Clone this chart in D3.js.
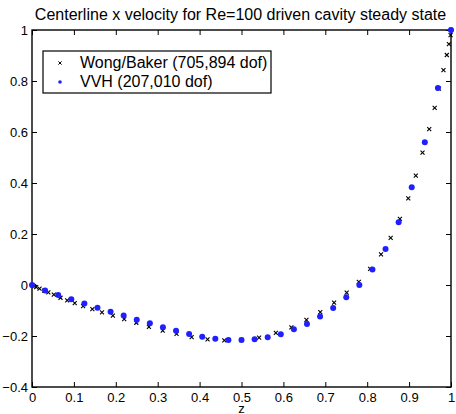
<!DOCTYPE html>
<html>
<head>
<meta charset="utf-8">
<script src="https://cdn.jsdelivr.net/npm/d3@7"></script>
<style>
  body { margin: 0; background: #fff; }
  text { font-family: "Liberation Sans", Arial, sans-serif; fill: #000; }
</style>
</head>
<body>
<div id="chart"></div>
<script>
const width = 456;
const height = 414;
const margin = { top: 30, right: 5, bottom: 27, left: 32 };

// Wong/Baker (705,894 dof)
const wongZ = [0.001, 0.005, 0.010, 0.018, 0.029, 0.039, 0.052, 0.068, 0.084, 0.102,
  0.122, 0.144, 0.167, 0.193, 0.220, 0.249, 0.279, 0.312, 0.345, 0.381, 0.419, 0.459,
  0.500, 0.542, 0.582, 0.619, 0.655, 0.688, 0.721, 0.751, 0.780, 0.807, 0.833, 0.856,
  0.878, 0.898, 0.916, 0.932, 0.948, 0.961, 0.971, 0.982, 0.990, 0.995, 0.999, 1.000];
const wongU = [-0.001, -0.004, -0.008, -0.014, -0.022, -0.029, -0.038, -0.050, -0.060, -0.071,
  -0.083, -0.095, -0.107, -0.120, -0.134, -0.148, -0.164, -0.179, -0.192, -0.204, -0.213, -0.217,
  -0.215, -0.206, -0.188, -0.166, -0.137, -0.106, -0.069, -0.030, 0.012, 0.063, 0.120, 0.185,
  0.259, 0.340, 0.429, 0.519, 0.611, 0.695, 0.770, 0.843, 0.902, 0.945, 0.980, 1.000];

// VVH (207,010 dof)
const vvhZ = [0, 0.03125, 0.0625, 0.09375, 0.125, 0.15625, 0.1875, 0.21875, 0.25, 0.28125,
  0.3125, 0.34375, 0.375, 0.40625, 0.4375, 0.46875, 0.5, 0.53125, 0.5625, 0.59375,
  0.625, 0.65625, 0.6875, 0.71875, 0.75, 0.78125, 0.8125, 0.84375, 0.875, 0.90625,
  0.9375, 0.96875, 1];
const vvhU = [0, -0.022, -0.039, -0.056, -0.073, -0.089, -0.105, -0.120, -0.136, -0.150,
  -0.166, -0.179, -0.192, -0.203, -0.211, -0.216, -0.216, -0.213, -0.205, -0.193,
  -0.174, -0.153, -0.124, -0.090, -0.048, 0.000, 0.061, 0.141, 0.246, 0.383,
  0.560, 0.773, 1.000];

const xTicks = [0, 0.1, 0.2, 0.3, 0.4, 0.5, 0.6, 0.7, 0.8, 0.9, 1];
const yTicks = [-0.4, -0.2, 0, 0.2, 0.4, 0.6, 0.8, 1];

const titleText = "Centerline x velocity for Re=100 driven cavity steady state";
const legendLabels = ["Wong/Baker (705,894 dof)", "VVH (207,010 dof)"];

const svg = d3.select("#chart")
  .append("svg")
  .attr("width", width)
  .attr("height", height);

const xScale = d3.scaleLinear()
  .domain([0, 1])
  .range([margin.left, width - margin.right]);
const yScale = d3.scaleLinear()
  .domain([-0.4, 1])
  .range([height - margin.bottom, margin.top]);

const fmt = d => (d === 0 ? "0" : d3.format("")(+d.toFixed(1)));

// axes, matlab style: ticks inward, mirrored on top/right
const xAxis = svg.append("g")
  .attr("transform", `translate(0,${height - margin.bottom})`)
  .call(d3.axisBottom(xScale).tickValues(xTicks).tickSize(-5).tickPadding(6).tickFormat(fmt));
const xTop = svg.append("g")
  .attr("transform", `translate(0,${margin.top})`)
  .call(d3.axisTop(xScale).tickValues(xTicks).tickSize(-5).tickFormat(""));
const yAxis = svg.append("g")
  .attr("transform", `translate(${margin.left},0)`)
  .call(d3.axisLeft(yScale).tickValues(yTicks).tickSize(-5).tickPadding(4).tickFormat(fmt));
const yRight = svg.append("g")
  .attr("transform", `translate(${width - margin.right},0)`)
  .call(d3.axisRight(yScale).tickValues(yTicks).tickSize(-5).tickFormat(""));

[xAxis, xTop, yAxis, yRight].forEach(g => {
  g.select(".domain").remove();
  g.selectAll(".tick line").attr("stroke", "#000").attr("stroke-width", 1);
  g.selectAll(".tick text").style("font-size", "13px").style("font-family", "Liberation Sans, Arial, sans-serif");
});

svg.append("rect")
  .attr("x", margin.left)
  .attr("y", margin.top)
  .attr("width", width - margin.left - margin.right)
  .attr("height", height - margin.top - margin.bottom)
  .attr("fill", "none")
  .attr("stroke", "#000")
  .attr("stroke-width", 1.4);

svg.append("text")
  .attr("x", (margin.left + width - margin.right) / 2 - 1)
  .attr("y", 20)
  .attr("text-anchor", "middle")
  .style("font-size", "16px")
  .text(titleText);

svg.append("text")
  .attr("x", (margin.left + width - margin.right) / 2)
  .attr("y", 413)
  .attr("text-anchor", "middle")
  .style("font-size", "13px")
  .text("z");

const crossPath = s => `M${-s},${-s}L${s},${s}M${-s},${s}L${s},${-s}`;

const wong = wongZ.map((z, i) => ({ z, u: wongU[i] }));
const vvh = vvhZ.map((z, i) => ({ z, u: vvhU[i] }));

svg.append("g")
  .selectAll("path")
  .data(wong)
  .join("path")
  .attr("transform", d => `translate(${xScale(d.z)},${yScale(d.u)})`)
  .attr("d", crossPath(2))
  .attr("stroke", "#000")
  .attr("stroke-width", 1.1)
  .attr("fill", "none");

svg.append("g")
  .selectAll("circle")
  .data(vvh)
  .join("circle")
  .attr("cx", d => xScale(d.z))
  .attr("cy", d => yScale(d.u))
  .attr("r", 3)
  .attr("fill", "#1f1fff");

// legend
const legend = svg.append("g").attr("transform", "translate(43,51)");
legend.append("rect")
  .attr("width", 228)
  .attr("height", 42)
  .attr("fill", "#fff")
  .attr("stroke", "#000")
  .attr("stroke-width", 1.2);
legend.append("path")
  .attr("transform", "translate(17,12)")
  .attr("d", crossPath(1.6))
  .attr("stroke", "#000")
  .attr("stroke-width", 1);
legend.append("circle")
  .attr("cx", 17)
  .attr("cy", 31)
  .attr("r", 1.8)
  .attr("fill", "#1f1fff");
legend.selectAll("text.lbl")
  .data(legendLabels)
  .join("text")
  .attr("class", "lbl")
  .attr("x", 37)
  .attr("y", (d, i) => 17 + i * 18.5)
  .style("font-size", "16px")
  .text(d => d);
</script>
</body>
</html>
